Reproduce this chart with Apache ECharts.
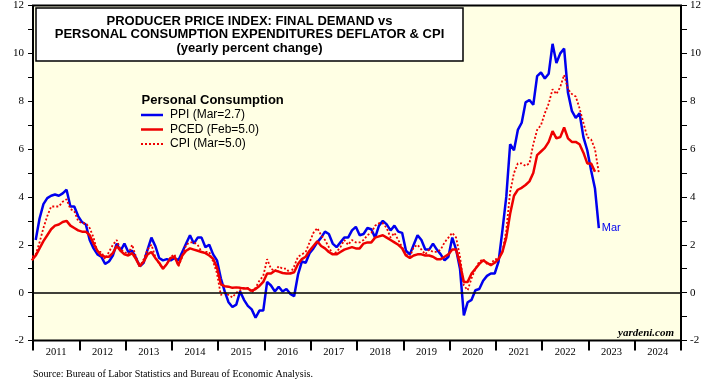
<!DOCTYPE html>
<html><head><meta charset="utf-8">
<script src="https://cdn.jsdelivr.net/npm/echarts@6/dist/echarts.min.js"></script>
<style>html,body{margin:0;padding:0;background:#fff}#c{width:720px;height:386px}</style>
</head><body><div id="c"></div>
<script>
// x axis: months since Jan 2011 (0 = Jan 2011, 168 = Jan 2025)
const years = ['2011','2012','2013','2014','2015','2016','2017','2018','2019','2020','2021','2022','2023','2024'];
const yMin = -2, yMax = 12;

// PPI final demand: personal consumption, yoy %, Jan 2011 .. Mar 2023
const ppiStart = 0;
const ppi = [
 2.2,3.1,3.7,3.95,4.05,4.1,4.05,4.15,4.3,3.6,3.6,3.2,
 2.95,2.85,2.2,1.85,1.6,1.5,1.2,1.3,1.55,2.05,1.75,2.05,
 1.7,1.75,1.45,1.1,1.25,1.8,2.3,1.95,1.45,1.35,1.4,1.35,
 1.45,1.35,1.7,2.05,2.4,2.05,2.3,2.3,1.9,2.0,1.6,1.35,
 0.6,0.05,-0.4,-0.6,-0.5,0.05,-0.3,-0.55,-0.7,-1.05,-0.75,-0.75,
 0.45,0.3,0.05,0.25,0.05,0.15,-0.05,-0.15,0.75,1.3,1.25,1.65,
 1.85,2.1,2.3,2.55,2.45,2.05,1.9,2.1,2.3,2.3,2.6,2.75,
 2.4,2.45,2.7,2.65,2.3,2.8,3.0,2.85,2.6,2.8,2.55,2.5,
 1.75,1.6,2.0,2.4,2.2,1.8,1.8,2.05,1.8,1.6,1.35,1.5,
 2.3,1.8,1.0,-0.95,-0.4,-0.3,0.1,0.15,0.5,0.7,0.8,0.8,
 1.3,2.6,4.0,6.2,5.95,6.8,7.1,7.95,8.05,7.85,9.05,9.2,
 8.95,9.15,10.4,9.6,10.0,10.2,8.35,7.6,7.3,7.5,6.5,5.95,
 5.1,4.35,2.7
];

// PCE deflator, yoy %, Dec 2010 .. Feb 2023
const pcedStart = -1;
const pced = [
 1.35,
 1.55,1.85,2.15,2.4,2.65,2.8,2.85,2.95,3.0,2.8,2.7,2.6,
 2.55,2.55,2.4,2.05,1.75,1.55,1.5,1.5,1.65,1.95,1.75,1.6,
 1.55,1.65,1.4,1.1,1.3,1.6,1.7,1.45,1.25,1.0,1.2,1.45,
 1.5,1.15,1.55,1.75,1.85,1.8,1.75,1.7,1.65,1.55,1.42,1.05,
 0.35,0.27,0.25,0.2,0.22,0.2,0.17,0.17,0.08,0.15,0.28,0.45,
 0.8,0.8,0.92,0.88,0.82,0.8,0.8,0.85,1.2,1.4,1.5,1.75,
 1.95,2.15,1.95,1.85,1.7,1.6,1.6,1.7,1.8,1.85,1.9,1.85,
 1.85,2.05,2.1,2.1,2.3,2.35,2.4,2.3,2.2,2.1,2.0,1.85,
 1.55,1.45,1.55,1.6,1.6,1.55,1.55,1.5,1.4,1.4,1.5,1.6,
 1.8,1.8,1.2,0.45,0.45,0.8,1.0,1.2,1.35,1.25,1.15,1.25,
 1.4,1.7,2.3,3.3,4.05,4.3,4.38,4.5,4.65,5.0,5.75,5.9,
 6.05,6.3,6.75,6.45,6.5,6.9,6.45,6.3,6.3,6.2,5.85,5.4,
 5.4,5.05
];

// CPI, yoy %, Dec 2010 .. Mar 2023
const cpiStart = -1;
const cpi = [
 1.5,
 1.6,2.1,2.7,3.2,3.6,3.6,3.6,3.8,3.9,3.5,3.4,3.0,
 2.9,2.9,2.7,2.3,1.7,1.7,1.4,1.7,2.0,2.2,1.8,1.7,
 1.6,2.0,1.5,1.1,1.4,1.8,2.0,1.5,1.2,1.0,1.2,1.5,
 1.6,1.1,1.5,2.0,2.1,2.1,2.0,1.7,1.7,1.7,1.3,0.8,
 -0.1,0.0,-0.1,-0.2,0.0,0.1,0.2,0.2,0.0,0.2,0.5,0.7,
 1.4,1.0,0.9,1.1,1.0,1.0,0.8,1.1,1.5,1.6,1.7,2.1,
 2.5,2.7,2.4,2.2,1.9,1.6,1.7,1.9,2.2,2.0,2.2,2.1,
 2.1,2.2,2.4,2.5,2.8,2.9,2.9,2.7,2.3,2.5,2.2,1.9,
 1.6,1.5,1.9,2.0,1.8,1.6,1.8,1.7,1.7,1.8,2.1,2.3,
 2.5,2.3,1.5,0.3,0.1,0.6,1.0,1.3,1.4,1.2,1.2,1.4,
 1.4,1.7,2.6,4.2,5.0,5.4,5.4,5.3,5.4,6.2,6.8,7.0,
 7.5,7.9,8.5,8.3,8.6,9.1,8.5,8.3,8.2,7.7,7.1,6.5,
 6.4,6.0,5.0
];

const names = ['PPI (Mar=2.7)', 'PCED (Feb=5.0)', 'CPI (Mar=5.0)'];
const legendTitle = 'Personal Consumption';
const endLabelText = 'Mar';

function pairs(arr, start) { return arr.map((v, i) => [start + i + 0.7, v]); }

const SERIF = 'Liberation Serif';
const SANS = 'Liberation Sans';
const BLUE = '#0000ee';
const RED = '#ee0000';
const styles = [
  {color: BLUE, width: 2.5, type: 'solid'},
  {color: RED, width: 2.5, type: 'solid'},
  {color: RED, width: 1.8, type: [2, 2]}
];

const chart = echarts.init(document.getElementById('c'), null, {renderer: 'canvas'});
const yAxisCommon = {
  type: 'value', min: yMin, max: yMax, interval: 1,
  axisLine: {show: false},
  axisTick: {show: true, length: 5, lineStyle: {color: '#000', width: 1}},
  splitLine: {show: false},
  axisLabel: {fontFamily: SERIF, fontSize: 11, color: '#000', margin: 9,
    formatter: v => (v % 2 === 0 ? String(v) : '')}
};

// hand-drawn legend (line sample + label)
const legendGraphics = [];
names.forEach((n, i) => {
  const y = 115 + i * 14.5;
  legendGraphics.push({type: 'line', z: 11, shape: {x1: 141, y1: y, x2: 163, y2: y},
    style: {stroke: styles[i].color, lineWidth: styles[i].width,
      lineDash: Array.isArray(styles[i].type) ? styles[i].type : null}});
  legendGraphics.push({type: 'text', x: 170, y: y, z: 11, style: {text: n,
    textAlign: 'left', textVerticalAlign: 'middle', font: '12px "Liberation Sans"', fill: '#000'}});
});

chart.setOption({
  animation: false,
  backgroundColor: '#fff',
  grid: {left: 33, right: 39, top: 5, bottom: 45.5, show: true,
    backgroundColor: '#ffffe4', borderColor: '#000', borderWidth: 2},
  xAxis: [
    {type: 'value', min: 0, max: 168, interval: 12, position: 'bottom',
     axisLine: {show: false, onZero: false}, splitLine: {show: false},
     axisTick: {show: true, length: 10, lineStyle: {color: '#000', width: 2}},
     axisLabel: {show: false}},
    {type: 'category', data: years, boundaryGap: true, position: 'bottom',
     axisLine: {show: false, onZero: false}, axisTick: {show: false}, splitLine: {show: false},
     axisLabel: {fontFamily: SERIF, fontSize: 10.5, color: '#000', margin: 6}}
  ],
  yAxis: [
    Object.assign({position: 'left'}, yAxisCommon),
    Object.assign({position: 'right'}, yAxisCommon, {axisTick: {show: true, length: 6, lineStyle: {color: '#000', width: 1}}})
  ],
  series: [
    {name: names[0], type: 'line', xAxisIndex: 0, yAxisIndex: 0, data: pairs(ppi, ppiStart),
     symbol: 'none', lineStyle: styles[0], itemStyle: {color: BLUE},
     endLabel: {show: true, formatter: endLabelText, color: BLUE, fontFamily: SANS, fontSize: 11, distance: 3},
     markLine: {silent: true, symbol: 'none', label: {show: false},
       lineStyle: {color: '#000', width: 1.5, type: 'solid'}, data: [{yAxis: 0}]}},
    {name: names[1], type: 'line', xAxisIndex: 0, yAxisIndex: 0, data: pairs(pced, pcedStart),
     symbol: 'none', lineStyle: styles[1], itemStyle: {color: RED}},
    {name: names[2], type: 'line', xAxisIndex: 0, yAxisIndex: 0, data: pairs(cpi, cpiStart),
     symbol: 'none', lineStyle: styles[2], itemStyle: {color: RED}}
  ],
  graphic: [
    {type: 'rect', shape: {x: 36, y: 8, width: 427, height: 53},
     style: {fill: '#fff', stroke: '#000', lineWidth: 1.5}, z: 10},
    {type: 'text', x: 249.5, y: 21.5, z: 11, style: {text: 'PRODUCER PRICE INDEX: FINAL DEMAND vs',
      textAlign: 'center', textVerticalAlign: 'middle', font: 'bold 13px "Liberation Sans"', fill: '#000'}},
    {type: 'text', x: 249.5, y: 34.5, z: 11, style: {text: 'PERSONAL CONSUMPTION EXPENDITURES DEFLATOR & CPI',
      textAlign: 'center', textVerticalAlign: 'middle', font: 'bold 13px "Liberation Sans"', fill: '#000'}},
    {type: 'text', x: 249.5, y: 48, z: 11, style: {text: '(yearly percent change)',
      textAlign: 'center', textVerticalAlign: 'middle', font: 'bold 13px "Liberation Sans"', fill: '#000'}},
    {type: 'text', x: 141.5, y: 100, z: 11, style: {text: legendTitle,
      textAlign: 'left', textVerticalAlign: 'middle', font: 'bold 13px "Liberation Sans"', fill: '#000'}},
    {type: 'text', x: 674, y: 333.5, z: 11, style: {text: 'yardeni.com',
      textAlign: 'right', textVerticalAlign: 'middle', font: 'italic bold 11px "Liberation Serif"', fill: '#000'}},
    {type: 'text', x: 33, y: 374.5, z: 11, style: {text: 'Source: Bureau of Labor Statistics and Bureau of Economic Analysis.',
      textAlign: 'left', textVerticalAlign: 'middle', font: '10px "Liberation Serif"', fill: '#000'}}
  ].concat(legendGraphics)
});
</script></body></html>
